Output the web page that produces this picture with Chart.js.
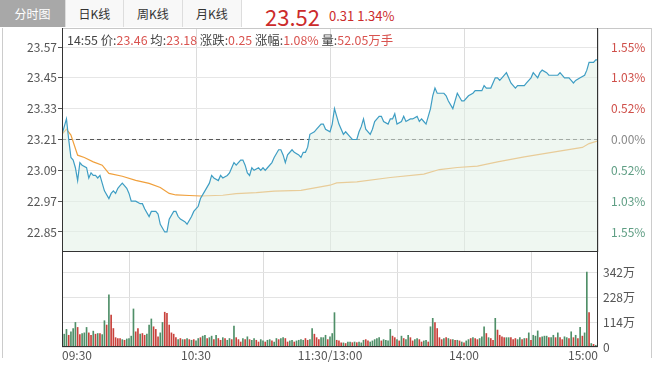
<!DOCTYPE html>
<html>
<head>
<meta charset="utf-8">
<script src="https://cdn.jsdelivr.net/npm/chart.js@4.4.1/dist/chart.umd.min.js"></script>
<style>
  body { margin: 0; background: #fff; font-family: "Noto Sans CJK SC", "Liberation Sans", sans-serif; }
  #wrap { position: relative; width: 653px; height: 373px; overflow: hidden; }
  .tab { position: absolute; top: 0; height: 27px; line-height: 27px; text-align: center; font-size: 12px; color: #333;
         background: #f8f8f8; border-right: 1px solid #ddd; box-sizing: border-box; }
  .tab.on { background: #a8a8a8; color: #fff; border-right: none; }
  #box { position: absolute; left: 2px; top: 28px; width: 650px; height: 330px; border-left: 1px solid #ccc; border-right: 1px solid #ccc; box-sizing: border-box; }
  #last { position: absolute; left: 265px; top: 0px; font-size: 22px; color: #cc2b2b; }
  #chg { position: absolute; left: 329px; top: 6px; font-size: 13px; color: #cc2b2b; }
  #info { position: absolute; left: 67px; top: 31px; font-size: 12.4px; color: #444; white-space: nowrap; z-index: 2; }
  #info b { font-weight: normal; color: #d9534f; }
  canvas { position: absolute; left: 0; }
</style>
</head>
<body>
<div id="wrap">
  <div id="box"></div>
  <div class="tab on" style="left:0;width:65px">分时图</div>
  <div class="tab" style="left:65px;width:59px;border-left:1px solid #ddd">日K线</div>
  <div class="tab" style="left:124px;width:59px">周K线</div>
  <div class="tab" style="left:183px;width:59px">月K线</div>
  <div id="last">23.52</div>
  <div id="chg">0.31 1.34%</div>
  <canvas id="priceChart" width="653" height="260" style="top:0"></canvas>
  <canvas id="volChart" width="653" height="133" style="top:240px"></canvas>
  <div id="info">14:55 价:<b>23.46</b> 均:<b>23.18</b> 涨跌:<b>0.25</b> 涨幅:<b>1.08%</b> 量:<b>52.05万手</b></div>
</div>
<script>
// 昨收
const prevClose = 23.21;

// 时间轴 (分钟序号 0..240)
const timeTicks = [0, 60, 120, 180, 240];
const timeLabels = ['09:30', '10:30', '11:30/13:00', '14:00', '15:00'];

// 刻度
const priceTicks = [22.85, 22.97, 23.09, 23.21, 23.33, 23.45, 23.57];
const volTicks = [0, 114, 228, 342];

// 分时价格 (分钟, 价格)
const priceMin = [0, 2, 3, 4, 5, 6, 7, 8, 9, 11, 12, 13, 14, 15, 16, 17, 18, 19, 21, 22, 23, 24, 25, 26, 27, 29, 30,
  31, 33, 35, 36, 37, 39, 40, 42, 43, 44, 46, 47, 48, 50, 51, 52, 53, 55, 56, 58, 59, 61, 62, 64, 66, 67, 68, 70,
  71, 72, 74, 75, 76, 77, 78, 80, 81, 82, 83, 84, 85, 86, 88, 89, 90, 91, 92, 94, 95, 97, 98, 99, 100, 101, 103,
  104, 106, 107, 108, 109, 110, 111, 113, 114, 116, 117, 118, 120, 121, 122, 123, 124, 126, 127, 129, 130, 132,
  133, 134, 135, 136, 138, 139, 140, 142, 143, 144, 146, 147, 148, 149, 150, 152, 153, 154, 156, 157, 159, 160,
  161, 162, 163, 165, 166, 167, 168, 171, 172, 173, 175, 176, 177, 179, 180, 182, 184, 185, 186, 188, 189, 190,
  191, 192, 194, 195, 196, 197, 199, 200, 201, 203, 204, 205, 207, 208, 210, 211, 213, 214, 215, 217, 218, 220,
  222, 223, 225, 227, 228, 229, 230, 232, 234, 235, 236, 238, 239, 240];
const priceVal = [23.23, 23.29, 23.21, 23.14, 23.13, 23.10, 23.05, 23.12, 23.11, 23.10, 23.06, 23.08, 23.07, 23.07,
  23.06, 23.07, 23.04, 23.01, 22.98, 23.00, 23.01, 23.00, 23.02, 23.03, 23.04, 23.02, 23.00,
  22.97, 22.97, 22.96, 22.96, 22.94, 22.91, 22.93, 22.93, 22.92, 22.88, 22.85, 22.85, 22.90, 22.93, 22.93, 22.91,
  22.90, 22.89, 22.88, 22.91, 22.93, 22.95, 22.98, 23.01, 23.04, 23.07, 23.06, 23.05,
  23.07, 23.06, 23.07, 23.08, 23.10, 23.12, 23.11, 23.13, 23.13, 23.11, 23.08, 23.07, 23.10, 23.09, 23.10, 23.09,
  23.10, 23.09, 23.10, 23.12, 23.14, 23.17, 23.17, 23.15, 23.12, 23.15, 23.17,
  23.16, 23.15, 23.14, 23.16, 23.16, 23.18, 23.23, 23.24, 23.25, 23.27, 23.27, 23.25, 23.24, 23.27, 23.33, 23.30,
  23.27, 23.23, 23.24, 23.22, 23.21, 23.21,
  23.24, 23.26, 23.29, 23.25, 23.23, 23.25, 23.28, 23.30, 23.30, 23.28, 23.27, 23.29, 23.29, 23.31, 23.27, 23.28,
  23.30, 23.28, 23.29, 23.29, 23.30, 23.28,
  23.29, 23.28, 23.27, 23.33, 23.38, 23.41, 23.39, 23.39, 23.38, 23.36, 23.33, 23.36, 23.39, 23.36, 23.36, 23.38,
  23.39, 23.40, 23.40, 23.40, 23.42, 23.41,
  23.41, 23.41, 23.45, 23.45, 23.44, 23.45, 23.47, 23.45, 23.43, 23.41, 23.42, 23.42, 23.42, 23.43, 23.45, 23.47,
  23.45, 23.47, 23.48, 23.47, 23.46, 23.46,
  23.46, 23.47, 23.45, 23.45, 23.44, 23.43, 23.44, 23.45, 23.46, 23.48, 23.51, 23.51, 23.52, 23.52];

// 均价线
const avgMin = [0, 2, 4, 7, 10, 14, 18, 21, 27, 33, 39, 44, 48, 51, 57, 62, 72, 78, 87, 95, 107, 120, 123, 132, 147,
  162, 169, 177, 186, 195, 207, 222, 233, 236, 240];
const avgVal = [23.23, 23.25, 23.227, 23.149, 23.140, 23.123, 23.110, 23.078, 23.067, 23.051, 23.039, 23.023, 23.000,
  22.994, 22.992, 22.990, 22.993, 22.999, 23.003, 23.009, 23.012, 23.032, 23.041, 23.045, 23.062,
  23.075, 23.093, 23.101, 23.106, 23.123, 23.142, 23.164, 23.179, 23.194, 23.205];

// 成交量 (万), 每分钟一根
const volume = [45,
  59, 81, 54, 70, 85, 113, 90, 57, 62, 65, 90, 65, 54, 73, 59, 62, 62, 57, 121, 101,
  240, 147, 85, 43, 39, 39, 34, 31, 37, 39, 50, 175, 70, 85, 59, 62, 54, 59, 101, 129,
  93, 81, 47, 65, 113, 160, 155, 101, 65, 59, 43, 34, 39, 34, 34, 39, 34, 31, 34, 28,
  39, 43, 50, 54, 39, 43, 50, 34, 54, 39, 31, 43, 39, 31, 39, 34, 96, 43, 34, 23,
  39, 34, 47, 34, 31, 39, 31, 23, 34, 28, 23, 31, 34, 28, 23, 39, 34, 39, 43, 39,
  23, 28, 31, 23, 28, 31, 34, 31, 39, 31, 34, 85, 59, 43, 34, 43, 43, 54, 34, 47,
  62, 158, 31, 28, 19, 19, 16, 23, 23, 20, 23, 20, 23, 19, 31, 34, 28, 23, 28, 34,
  39, 43, 28, 34, 31, 28, 81, 50, 43, 34, 28, 50, 39, 34, 54, 43, 28, 34, 39, 34,
  23, 28, 31, 23, 93, 132, 112, 85, 43, 34, 39, 43, 39, 34, 34, 31, 31, 28, 23, 19,
  28, 34, 39, 43, 39, 34, 39, 47, 93, 62, 43, 39, 31, 132, 78, 54, 47, 43, 43, 43,
  43, 34, 39, 34, 43, 34, 39, 39, 65, 31, 54, 50, 74, 43, 47, 50, 50, 43, 43, 54,
  43, 65, 43, 34, 47, 43, 39, 70, 43, 54, 39, 90, 50, 65, 345, 158, 16, 12, 8, 267];

// 每根量柱颜色 r=红 g=绿
const volDir = 'g' +
  'ggrgggrrgg' + 'grrgrgrggr' + 'grrrrrgrgg' + 'ggrrgrrggg' +
  'rrrggrrrrr' + 'rgrgrgrgrg' + 'grggrggrgr' + 'rgrggrgrrr' +
  'grgrggrrgg' + 'rggrggrggr' + 'rggrggggrr' + 'ggrrrgggrg' +
  'g' +
  'grrrgrggrg' + 'rgggrrgggg' + 'grggggrrgr' + 'grggrrggrr' +
  'ggrggrrrrg' + 'rgrgrgrgrg' + 'grgrrgggrg' + 'rrgrrrrggr' +
  'rrggrgrgrg' + 'ggrgggrggr' + 'grrggrgrgr' + 'grggrgrgg';

const upColor = '#c8413b';
const downColor = '#4f8f68';

Chart.defaults.font.family = '"Noto Sans CJK SC", "Liberation Sans", sans-serif';
Chart.defaults.font.size = 12;
Chart.defaults.color = '#555';

// 画边框
const framePlugin = {
  id: 'frame',
  afterDraw(chart, args, opts) {
    const { ctx, chartArea: a } = chart;
    const l = Math.round(a.left) + 0.5, r = Math.round(a.right) - 0.5;
    const t = Math.round(a.top) + 0.5, b = Math.round(a.bottom) - 0.5;
    ctx.save();
    ctx.lineWidth = 1;
    if (opts.topColor) {
      ctx.strokeStyle = opts.topColor;
      ctx.beginPath();
      ctx.moveTo(l, t);
      ctx.lineTo(opts.topTo || r, t);
      ctx.stroke();
    }
    ctx.strokeStyle = '#333';
    ctx.beginPath();
    ctx.moveTo(l, a.top); ctx.lineTo(l, a.bottom);
    ctx.moveTo(r, a.top); ctx.lineTo(r, a.bottom);
    ctx.moveTo(a.left, b); ctx.lineTo(a.right, b);
    ctx.stroke();
    ctx.restore();
  }
};

const setTicks = list => scale => { scale.ticks = list.map(v => ({ value: v })); };
// 固定轴宽, 去掉标签带来的额外留白
const fixSize = (w, h) => s => {
  if (w !== null) s.width = w;
  if (h !== null) s.height = h;
  s.paddingTop = 0; s.paddingBottom = 0; s.paddingLeft = 0; s.paddingRight = 0;
};

const pricePts = priceMin.map((m, i) => ({ x: m, y: priceVal[i] }));
const avgPts = avgMin.map((m, i) => ({ x: m, y: avgVal[i] }));
const yMin = 22.772, yMax = 23.644;

new Chart(document.getElementById('priceChart'), {
  type: 'line',
  data: {
    datasets: [
      {
        data: pricePts, borderColor: '#3f9ec4', borderWidth: 1.2, pointRadius: 0,
        fill: 'start', backgroundColor: 'rgba(226,240,230,0.55)', tension: 0
      },
      { data: avgPts, borderColor: '#f0a03c', borderWidth: 1.2, pointRadius: 0, fill: false, tension: 0 },
      {
        data: [{ x: 0, y: prevClose }, { x: 240, y: prevClose }],
        borderColor: '#555', borderWidth: 1, borderDash: [4, 3], pointRadius: 0, fill: false
      }
    ]
  },
  options: {
    responsive: false,
    animation: false,
    layout: { padding: { top: 28, bottom: 8, left: 0, right: 0 } },
    plugins: {
      legend: { display: false },
      tooltip: { enabled: false },
      frame: { topColor: '#c8c8c8', topTo: 651 }
    },
    scales: {
      x: {
        type: 'linear', min: 0, max: 240,
        afterBuildTicks: setTicks(timeTicks),
        ticks: { display: false },
        grid: { color: '#dcdcdc', drawTicks: false },
        border: { display: false },
        afterFit: fixSize(null, 0)
      },
      y: {
        position: 'left', min: yMin, max: yMax,
        afterBuildTicks: setTicks(priceTicks),
        ticks: { callback: v => v.toFixed(2), color: '#555', padding: 1 },
        grid: { color: '#e6e6e6', tickColor: '#555', tickLength: 4 },
        border: { display: false },
        afterFit: fixSize(62, null)
      },
      y2: {
        position: 'right', min: yMin, max: yMax,
        afterBuildTicks: setTicks(priceTicks),
        ticks: {
          callback: v => (Math.abs(v - prevClose) / prevClose * 100).toFixed(2) + '%',
          color: c => c.tick.value > prevClose + 0.001 ? '#cf4f49' : (c.tick.value < prevClose - 0.001 ? '#5f9e84' : '#888'),
          padding: 5
        },
        grid: { display: false },
        border: { display: false },
        afterFit: fixSize(55, null)
      }
    }
  },
  plugins: [framePlugin]
});

const volPts = volume.map((v, i) => ({ x: i, y: v }));
const volColors = volume.map((v, i) => volDir[i] === 'r' ? upColor : downColor);

new Chart(document.getElementById('volChart'), {
  type: 'bar',
  data: {
    datasets: [{ data: volPts, backgroundColor: volColors, barThickness: 1, borderWidth: 0 }]
  },
  options: {
    responsive: false,
    animation: false,
    layout: { padding: { top: 12, bottom: 6, left: 62, right: 0 } },
    plugins: {
      legend: { display: false },
      tooltip: { enabled: false }
    },
    scales: {
      x: {
        type: 'linear', min: 0, max: 240, offset: false,
        afterBuildTicks: setTicks(timeTicks),
        ticks: {
          callback: v => timeLabels[timeTicks.indexOf(v)],
          align: 'inner', maxRotation: 0, autoSkip: false, color: '#555', padding: 1
        },
        grid: { color: '#dcdcdc', drawTicks: false },
        border: { display: false },
        afterFit: fixSize(null, 20)
      },
      y: {
        position: 'right', min: 0, max: 437,
        afterBuildTicks: setTicks(volTicks),
        ticks: { callback: v => v === 0 ? '0' : v + '万', color: '#555', padding: 5 },
        grid: { color: '#e3e3e3', drawTicks: false },
        border: { display: false },
        afterFit: fixSize(55, null)
      }
    }
  },
  plugins: [framePlugin]
});
</script>
</body>
</html>
